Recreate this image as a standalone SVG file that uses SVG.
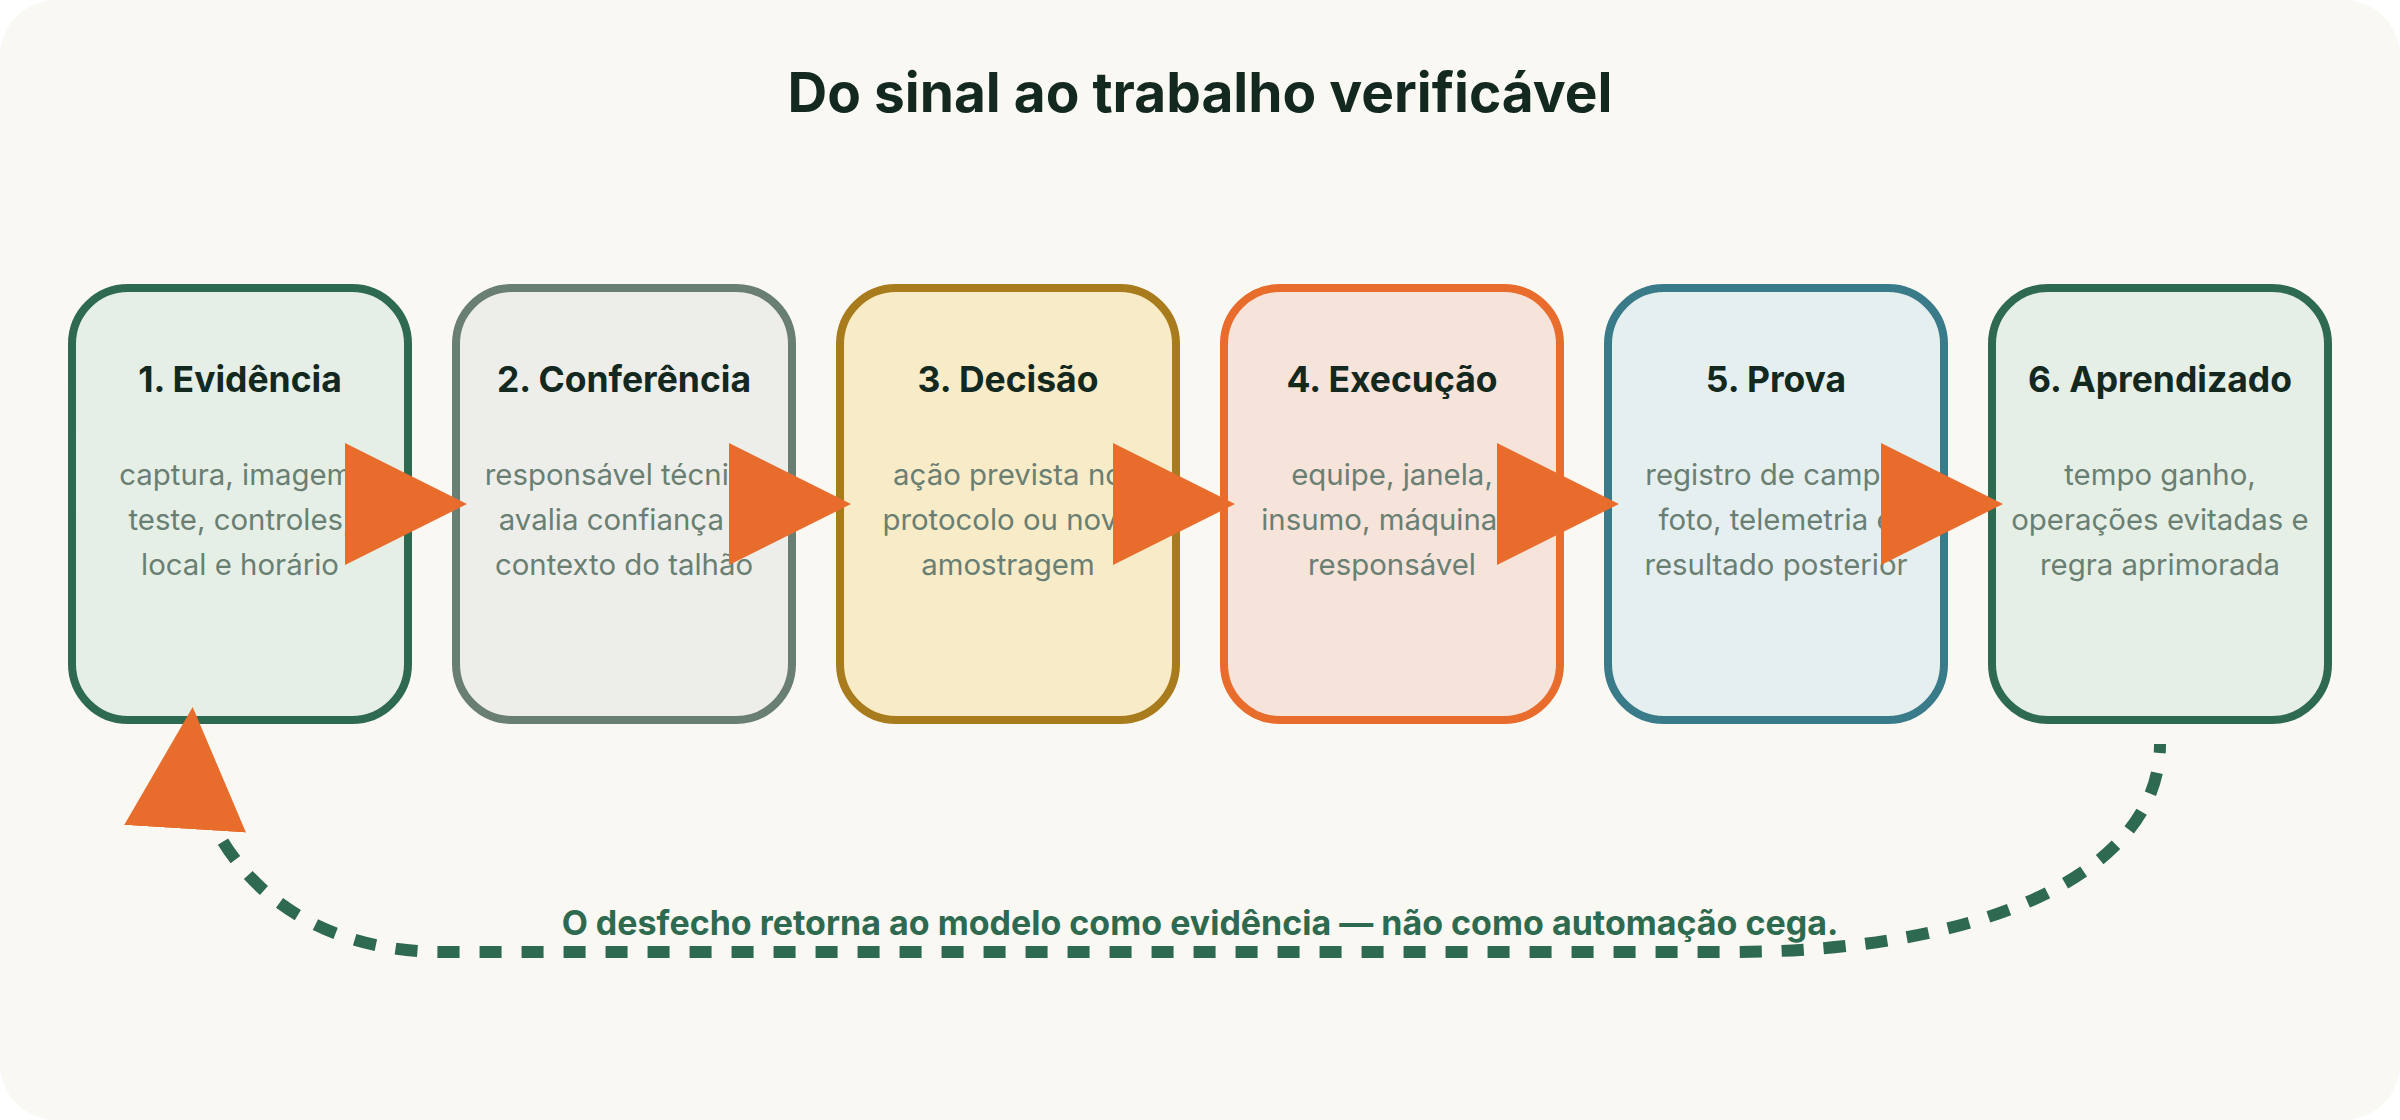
<svg xmlns="http://www.w3.org/2000/svg" width="2400" height="1120" viewBox="0 0 2400 1120">
  <defs>
    <style>
      .box { stroke-width: 8; }
      .head { font-family: Inter, "Liberation Sans", sans-serif; font-weight: 700; font-size: 35.5px; fill: #13281e; text-anchor: middle; }
      .body { font-family: Inter, "Liberation Sans", sans-serif; font-weight: 400; font-size: 29.4px; fill: #6a7f73; text-anchor: middle; }
      .title { font-family: Inter, "Liberation Sans", sans-serif; font-weight: 700; font-size: 55px; fill: #13281e; text-anchor: middle; }
      .note { font-family: Inter, "Liberation Sans", sans-serif; font-weight: 700; font-size: 34px; fill: #2e6a4f; text-anchor: middle; }
      .flow { stroke: #e86c2c; stroke-width: 8; fill: none; }
      .loop { stroke: #2e6a4f; stroke-width: 12; fill: none; stroke-dasharray: 22 20; stroke-dashoffset: 13; }
    </style>
    <marker id="arrow" viewBox="0 0 10 10" refX="9.1" refY="5" markerUnits="userSpaceOnUse" markerWidth="122" markerHeight="122" orient="auto">
      <path d="M0,0 L10,5 L0,10 Z" fill="#e86c2c"/>
    </marker>
  </defs>

  <rect x="0" y="0" width="2400" height="1120" fill="#ffffff"/>
  <rect x="0" y="0" width="2400" height="1120" rx="56" ry="56" fill="#faf8f3"/>

  <text class="title" x="1200" y="112">Do sinal ao trabalho verificável</text>

  <g id="node-1">
    <rect class="box" x="72" y="288" width="336" height="432" rx="56" ry="56" fill="#e5efe6" stroke="#2e6a4f"/>
    <text class="head" x="240" y="392">1. Evidência</text>
    <text class="body" x="240" y="485">captura, imagem,</text>
    <text class="body" x="240" y="530">teste, controles,</text>
    <text class="body" x="240" y="575">local e horário</text>
  </g>

  <g id="node-2">
    <rect class="box" x="456" y="288" width="336" height="432" rx="56" ry="56" fill="#edeee9" stroke="#6a7f73"/>
    <text class="head" x="624" y="392">2. Conferência</text>
    <text class="body" x="624" y="485">responsável técnico</text>
    <text class="body" x="624" y="530">avalia confiança e</text>
    <text class="body" x="624" y="575">contexto do talhão</text>
  </g>

  <g id="node-3">
    <rect class="box" x="840" y="288" width="336" height="432" rx="56" ry="56" fill="#f8ebc7" stroke="#a87b1c"/>
    <text class="head" x="1008" y="392">3. Decisão</text>
    <text class="body" x="1008" y="485">ação prevista no</text>
    <text class="body" x="1008" y="530">protocolo ou nova</text>
    <text class="body" x="1008" y="575">amostragem</text>
  </g>

  <g id="node-4">
    <rect class="box" x="1224" y="288" width="336" height="432" rx="56" ry="56" fill="#f6e3da" stroke="#e86c2c"/>
    <text class="head" x="1392" y="392">4. Execução</text>
    <text class="body" x="1392" y="485">equipe, janela,</text>
    <text class="body" x="1392" y="530">insumo, máquina e</text>
    <text class="body" x="1392" y="575">responsável</text>
  </g>

  <g id="node-5">
    <rect class="box" x="1608" y="288" width="336" height="432" rx="56" ry="56" fill="#e6eff0" stroke="#3a7b8a"/>
    <text class="head" x="1776" y="392">5. Prova</text>
    <text class="body" x="1776" y="485">registro de campo,</text>
    <text class="body" x="1776" y="530">foto, telemetria e</text>
    <text class="body" x="1776" y="575">resultado posterior</text>
  </g>

  <g id="node-6">
    <rect class="box" x="1992" y="288" width="336" height="432" rx="56" ry="56" fill="#e5efe6" stroke="#2e6a4f"/>
    <text class="head" x="2160" y="392">6. Aprendizado</text>
    <text class="body" x="2160" y="485">tempo ganho,</text>
    <text class="body" x="2160" y="530">operações evitadas e</text>
    <text class="body" x="2160" y="575">regra aprimorada</text>
  </g>

  <g id="connectors">
    <line class="flow" x1="408" y1="504" x2="456" y2="504" marker-end="url(#arrow)"/>
    <line class="flow" x1="792" y1="504" x2="840" y2="504" marker-end="url(#arrow)"/>
    <line class="flow" x1="1176" y1="504" x2="1224" y2="504" marker-end="url(#arrow)"/>
    <line class="flow" x1="1560" y1="504" x2="1608" y2="504" marker-end="url(#arrow)"/>
    <line class="flow" x1="1944" y1="504" x2="1992" y2="504" marker-end="url(#arrow)"/>
    <path class="loop" d="M2160,744 C2160,870 1990,952 1730,952 L444,952 C270,952 185,830 192,718" marker-end="url(#arrow)"/>
    <text class="note" x="1200" y="935">O desfecho retorna ao modelo como evidência — não como automação cega.</text>
  </g>
</svg>
